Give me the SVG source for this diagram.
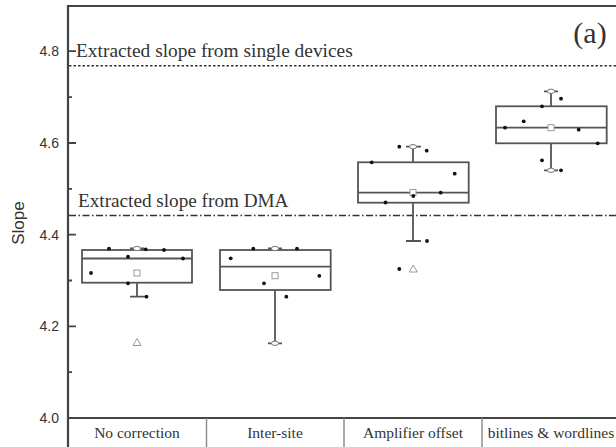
<svg xmlns="http://www.w3.org/2000/svg" width="616" height="447" viewBox="0 0 616 447">
<style>
.frame{fill:none;stroke:#444;stroke-width:2.2}
.tick{stroke:#444;stroke-width:1.8}
.grid{stroke:#888;stroke-width:1.4}
.box{fill:none;stroke:#555;stroke-width:1.8}
.wh{stroke:#555;stroke-width:1.8;fill:none}
.dot{fill:#111}
.mean{fill:#fff;stroke:#999;stroke-width:1}
.mm{fill:#fff;stroke:#777;stroke-width:1}
.tri{fill:#fff;stroke:#999;stroke-width:1}
.tl{font-family:"Liberation Sans",Arial,sans-serif;font-size:14px;fill:#333;text-anchor:end}
.ser{font-family:"Liberation Serif","Times New Roman",serif;fill:#333}
.cat{font-family:"Liberation Serif","Times New Roman",serif;font-size:15.5px;fill:#333;text-anchor:middle}
</style>
<rect width="616" height="447" fill="#fff"/>

<g id="axes">
  <path class="frame" d="M68,447 V6 H618"/>
  <path class="frame" d="M68,418 H618"/>
  <path class="grid" d="M206.5,418 V447 M344,418 V447 M482,418 V447"/>
  <path class="tick" d="M68,418 H76 M68,326.3 H76 M68,234.6 H76 M68,143 H76 M68,51.2 H76"/>
  <path class="tick" d="M68,372.2 H72 M68,280.5 H72 M68,188.8 H72 M68,97.1 H72"/>
  <text class="tl" x="59" y="423">4.0</text>
  <text class="tl" x="59" y="331.3">4.2</text>
  <text class="tl" x="59" y="239.6">4.4</text>
  <text class="tl" x="59" y="148">4.6</text>
  <text class="tl" x="59" y="56.2">4.8</text>
  <text x="24" y="223" transform="rotate(-90 24 223)" font-family="'Liberation Sans',Arial,sans-serif" font-size="17" fill="#333" text-anchor="middle">Slope</text>
  <text class="ser" x="590" y="43" font-size="30" text-anchor="middle">(a)</text>
</g>

<g id="categories">
  <text class="cat" x="137" y="438">No correction</text>
  <text class="cat" x="275" y="438">Inter-site</text>
  <text class="cat" x="413" y="438">Amplifier offset</text>
  <text class="cat" x="551" y="438">bitlines &amp; wordlines</text>
</g>

<g id="reference-lines">
  <line x1="69" y1="65.7" x2="616" y2="65.7" stroke="#333" stroke-width="1.6" stroke-dasharray="2.5 2"/>
  <text class="ser" x="76" y="57" font-size="19.4">Extracted slope from single devices</text>
  <line x1="69" y1="215.5" x2="616" y2="215.5" stroke="#333" stroke-width="1.6" stroke-dasharray="7 2.5 1.5 2.5"/>
  <text class="ser" x="78" y="207" font-size="19.2">Extracted slope from DMA</text>
</g>

<g id="box-no-correction">
  <rect class="box" x="82" y="250" width="110" height="32.7"/>
  <line class="wh" x1="82" y1="258.5" x2="192" y2="258.5"/>
  <path class="wh" d="M137,282.7 V296.7 M130,296.7 H145 M130,248.5 H144"/>
  <ellipse class="mm" cx="137" cy="248.5" rx="3.5" ry="2.2"/>
  <rect class="mean" x="134" y="270" width="6" height="6"/>
  <path class="tri" d="M137,338.5 L141,345.5 L133,345.5 Z"/>
  <circle class="dot" cx="109" cy="248.7" r="1.9"/>
  <circle class="dot" cx="145.7" cy="249.3" r="1.9"/>
  <circle class="dot" cx="164" cy="250" r="1.9"/>
  <circle class="dot" cx="128" cy="256.7" r="1.9"/>
  <circle class="dot" cx="183" cy="258.5" r="1.9"/>
  <circle class="dot" cx="91" cy="273" r="1.9"/>
  <circle class="dot" cx="128" cy="283.3" r="1.9"/>
  <circle class="dot" cx="146.5" cy="296.7" r="1.9"/>
</g>

<g id="box-inter-site">
  <rect class="box" x="220" y="250" width="110.7" height="40"/>
  <line class="wh" x1="220" y1="266.7" x2="330.7" y2="266.7"/>
  <path class="wh" d="M275,290 V343.3 M268,343.3 H282 M268,248.5 H282"/>
  <ellipse class="mm" cx="275" cy="248.5" rx="3.5" ry="2.2"/>
  <ellipse class="mm" cx="275" cy="343.3" rx="3.5" ry="2.2"/>
  <rect class="mean" x="272" y="272.7" width="6" height="6"/>
  <circle class="dot" cx="253.3" cy="248.7" r="1.9"/>
  <circle class="dot" cx="297" cy="248.7" r="1.9"/>
  <circle class="dot" cx="230.7" cy="258.3" r="1.9"/>
  <circle class="dot" cx="319.3" cy="275.8" r="1.9"/>
  <circle class="dot" cx="264" cy="283.3" r="1.9"/>
  <circle class="dot" cx="286.3" cy="296.7" r="1.9"/>
</g>

<g id="box-amplifier-offset">
  <rect class="box" x="358" y="162.3" width="110.7" height="40.4"/>
  <line class="wh" x1="358" y1="192.7" x2="468.7" y2="192.7"/>
  <path class="wh" d="M413,162.3 V146.7 M406,146.7 H421 M413,202.7 V241 M406,241 H421"/>
  <ellipse class="mm" cx="413" cy="146.7" rx="3.5" ry="2.2"/>
  <rect class="mean" x="410" y="189.5" width="6" height="6"/>
  <path class="tri" d="M413.3,265 L417.3,272 L409.3,272 Z"/>
  <circle class="dot" cx="399.3" cy="146.7" r="1.9"/>
  <circle class="dot" cx="426.7" cy="150.7" r="1.9"/>
  <circle class="dot" cx="371.7" cy="162.3" r="1.9"/>
  <circle class="dot" cx="454.7" cy="173.7" r="1.9"/>
  <circle class="dot" cx="440.7" cy="192.7" r="1.9"/>
  <circle class="dot" cx="413.3" cy="196" r="1.9"/>
  <circle class="dot" cx="385.5" cy="202.5" r="1.9"/>
  <circle class="dot" cx="427" cy="241" r="1.9"/>
  <circle class="dot" cx="399.3" cy="269" r="1.9"/>
</g>

<g id="box-bitlines-wordlines">
  <rect class="box" x="496" y="106.3" width="110.7" height="37"/>
  <line class="wh" x1="496" y1="127.7" x2="606.7" y2="127.7"/>
  <path class="wh" d="M551,106.3 V91.3 M544,91.3 H558 M551,143.3 V170.3 M544,170.3 H558"/>
  <ellipse class="mm" cx="551" cy="91.3" rx="3.5" ry="2.2"/>
  <ellipse class="mm" cx="551" cy="170.3" rx="3.5" ry="2.2"/>
  <rect class="mean" x="548" y="124.7" width="6" height="6"/>
  <circle class="dot" cx="561" cy="98.7" r="1.9"/>
  <circle class="dot" cx="542" cy="106.3" r="1.9"/>
  <circle class="dot" cx="523.7" cy="121.3" r="1.9"/>
  <circle class="dot" cx="505" cy="127.7" r="1.9"/>
  <circle class="dot" cx="578.7" cy="129.7" r="1.9"/>
  <circle class="dot" cx="597.7" cy="143.3" r="1.9"/>
  <circle class="dot" cx="542" cy="160.3" r="1.9"/>
  <circle class="dot" cx="561" cy="170.3" r="1.9"/>
</g>
</svg>
